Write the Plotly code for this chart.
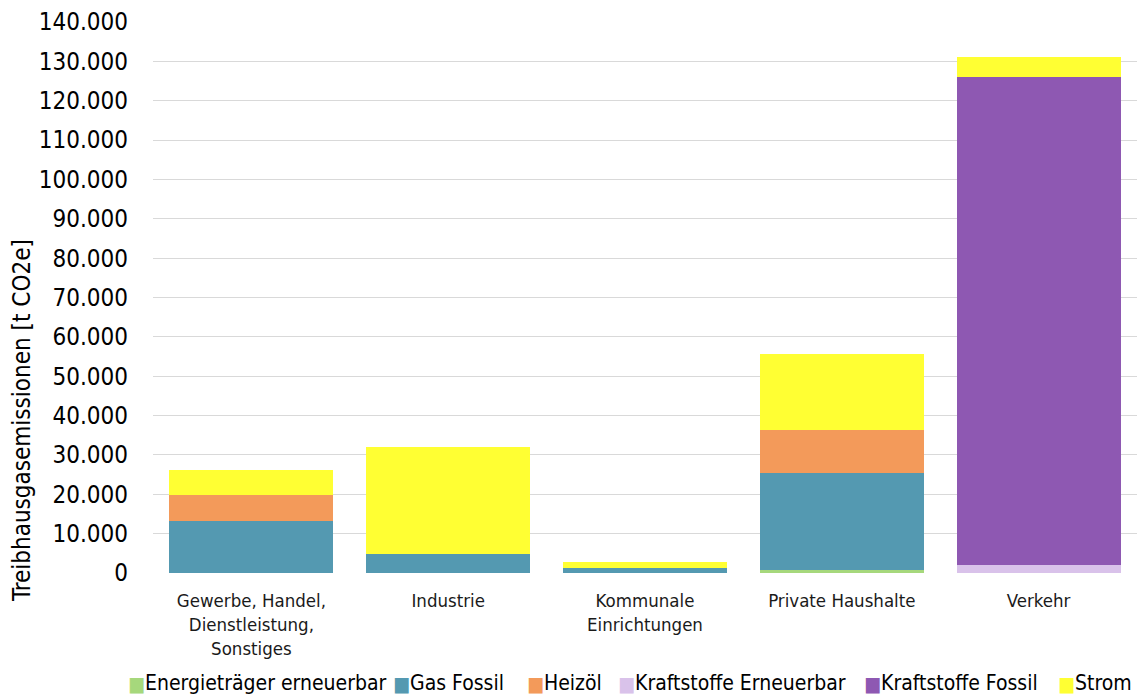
import plotly.graph_objects as go

categories = ["Gewerbe, Handel,<br>Dienstleistung,<br>Sonstiges", "Industrie",
              "Kommunale<br>Einrichtungen", "Private Haushalte", "Verkehr"]
series_names = ["Energieträger erneuerbar", "Gas Fossil", "Heizöl",
                "Kraftstoffe Erneuerbar", "Kraftstoffe Fossil", "Strom"]
energietraeger_erneuerbar = [0, 0, 100, 700, 0]
gas_fossil = [13300, 4750, 1200, 24700, 0]
heizoel = [6500, 0, 0, 10900, 0]
kraftstoffe_erneuerbar = [0, 0, 0, 0, 1950]
kraftstoffe_fossil = [0, 0, 0, 0, 123950]
strom = [6400, 27150, 1400, 19300, 5100]
y_ticks = list(range(0, 140001, 10000))

series_values = [energietraeger_erneuerbar, gas_fossil, heizoel,
                 kraftstoffe_erneuerbar, kraftstoffe_fossil, strom]
colors = ["#a6d87c", "#5499b1", "#f39a5a", "#d9c2ea", "#8e58b2", "#ffff33"]

FONT = "DejaVu Sans Condensed, DejaVu Sans, sans-serif"

fig = go.Figure()
for name, vals, col in zip(series_names, series_values, colors):
    fig.add_trace(go.Bar(x=categories, y=vals, name=name,
                         marker=dict(color=col, line=dict(width=0)),
                         showlegend=False))

L, R, T, B = 153, 7, 22, 124
W, H = 1144, 697
PW, PH = W - L - R, H - B - T


def px_x(px):
    return (px - L) / PW


def px_y(py):
    return (H - B - py) / PH


fig.update_layout(
    width=W, height=H, barmode="stack", bargap=0.167,
    separators=",.",
    paper_bgcolor="white", plot_bgcolor="white",
    margin=dict(l=L, r=R, t=T, b=B, pad=0),
    font=dict(family=FONT, color="#000000"),
)
fig.update_yaxes(range=[0, 140000], tickvals=y_ticks, tickformat=",d",
                 showgrid=True, gridcolor="#d9d9d9", gridwidth=1,
                 zeroline=False, showline=False,
                 tickfont=dict(size=24, family=FONT, color="#000000"),
                 ticks="", ticklabelstandoff=24)
fig.update_xaxes(showgrid=False, showline=False, zeroline=False, ticks="",
                 tickfont=dict(size=18.5, family=FONT, color="#1a1a1a"),
                 ticklabelstandoff=14, tickangle=0)

# y-axis title
fig.add_annotation(text="Treibhausgasemissionen [t CO2e]", textangle=-90,
                   xref="paper", yref="paper",
                   x=px_x(22), y=px_y(421),
                   xanchor="center", yanchor="middle", showarrow=False,
                   font=dict(size=24, family=FONT, color="#000000"))

# legend (custom, compact like the original)
legend_sq_x = [126, 391, 525, 616, 862, 1056]
for name, col, px in zip(series_names, colors, legend_sq_x):
    fig.add_annotation(
        text="■", xref="paper", yref="paper",
        x=px_x(px), y=px_y(698), xanchor="left", yanchor="bottom",
        showarrow=False, font=dict(size=20, family=FONT, color=col))
    fig.add_annotation(
        text=name, xref="paper", yref="paper",
        x=px_x(px + 17), y=px_y(697), xanchor="left", yanchor="bottom",
        showarrow=False, font=dict(size=21, family=FONT, color="#000000"))

fig.write_html("out.html")
